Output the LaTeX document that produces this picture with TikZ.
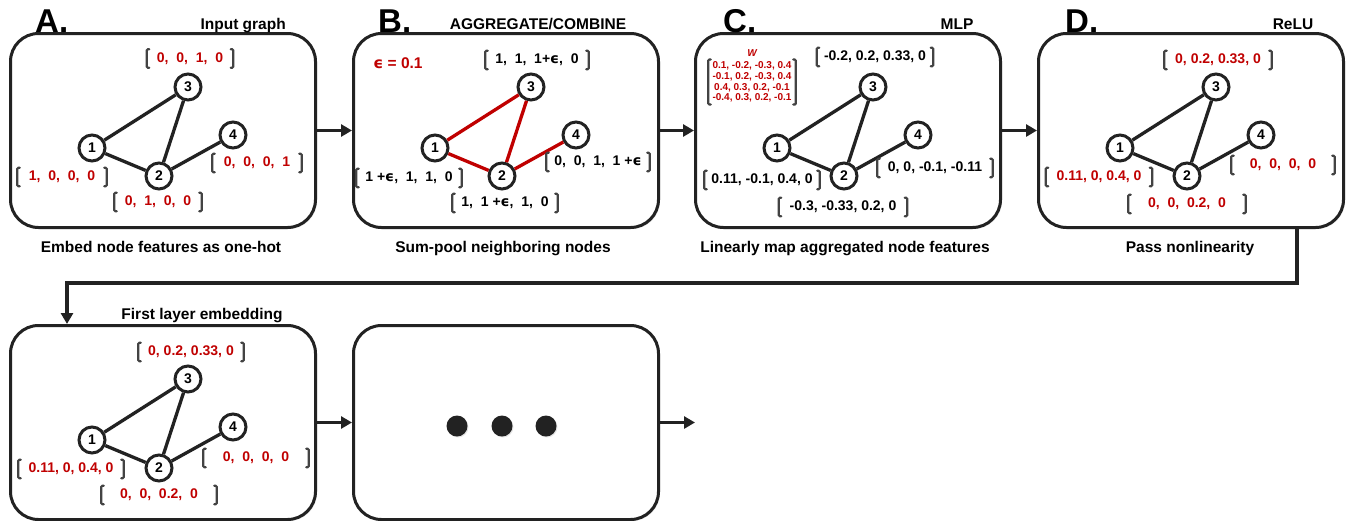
\documentclass[tikz,border=0pt]{standalone}
\usepackage{fontspec}
\setmainfont{Liberation Sans}
\newfontfamily\epsfont{DejaVu Sans}
\usetikzlibrary{arrows.meta,positioning,shadows}
\definecolor{hl}{RGB}{192,0,0}
\definecolor{ink}{RGB}{34,34,34}
\newcommand{\eps}{{\epsfont\bfseries ϵ}}

\tikzset{
  panel/.style={draw=ink, line width=3pt, rounded corners=28pt, fill=white,
    minimum width=305pt, minimum height=194pt,
    drop shadow={opacity=0.2, shadow xshift=1.5pt, shadow yshift=-1.5pt}},
  gnode/.style={circle, draw=ink, line width=3pt, fill=white, minimum size=26pt,
    inner sep=0pt, font=\fontsize{14}{14}\selectfont\bfseries},
  gedge/.style={draw=#1, line width=3.3pt},
  lbrk/.style={draw=ink!85, line width=2.2pt, line cap=round, rounded corners=1pt,
    to path={++(2.5pt,0) -- (\tikztostart) -- (\tikztotarget) -- ++(2.5pt,0)}},
  rbrk/.style={draw=ink!85, line width=2.2pt, line cap=round, rounded corners=1pt,
    to path={++(-2.5pt,0) -- (\tikztostart) -- (\tikztotarget) -- ++(-2.5pt,0)}},
  fv/.style 2 args={font=\fontsize{14}{16}\selectfont\bfseries, text=#1,
    minimum width=#2, minimum height=18pt, inner xsep=4pt, inner ysep=0pt,
    append after command={(\tikzlastnode.north west) edge[lbrk] (\tikzlastnode.south west)
      (\tikzlastnode.north east) edge[rbrk] (\tikzlastnode.south east)}},
  letter/.style={font=\fontsize{33}{33}\selectfont\bfseries, inner sep=0pt},
  head/.style={font=\fontsize{15.5}{16}\selectfont\bfseries, inner sep=0pt},
  flow/.style={draw=ink, line width=3.5pt, -{Triangle[length=11pt,width=12pt]}},
  dot/.style={circle, fill=ink, minimum size=21pt, inner sep=0pt,
    drop shadow={opacity=0.2, shadow xshift=1pt, shadow yshift=-1pt}},
}

\begin{document}
\begin{tikzpicture}[x=1pt, y=-1pt]
  \useasboundingbox (0,0) rectangle (1348,520);

  \foreach \p/\px/\py/\ec in {a/0/0/ink, b/343/0/hl, c/685/0/ink, d/1028/0/ink, e/0/292/ink}{
    \node[panel] at (\px+163,\py+130.5) (box\p) {};
    \node[gnode] at (\px+92,\py+148) (\p1) {1};
    \node[gnode] at (\px+159,\py+176) (\p2) {2};
    \node[gnode] at (\px+188,\py+87) (\p3) {3};
    \node[gnode] at (\px+233,\py+135) (\p4) {4};
    \draw[gedge=\ec] (\p1) -- (\p3) (\p1) -- (\p2) (\p2) -- (\p3) (\p2) -- (\p4);
  }
  \node[panel] at (343+163,292+130.5) (boxf) {};
  \node[dot] at (457,426) (dot1) {};
  \node[dot] at (502,426) (dot2) {};
  \node[dot] at (546,426) (dot3) {};

  % titles and captions
  \node[letter, anchor=base west] at (35,32) (leta) {A.};
  \node[letter, anchor=base west] at (378,32) (letb) {B.};
  \node[letter, anchor=base west] at (723,32) (letc) {C.};
  \node[letter, anchor=base west] at (1065,32) (letd) {D.};
  \node[head, anchor=base east] at (286,29) (tita) {Input graph};
  \node[head, anchor=base] at (538,29) (titb) {AGGREGATE/COMBINE};
  \node[head, anchor=base] at (957,29) (titc) {MLP};
  \node[head, anchor=base] at (1293,29) (titd) {ReLU};
  \node[head, anchor=base] at (202,319) (tite) {First layer embedding};
  \node[head, anchor=base] at (161,252) (capa) {Embed node features as one-hot};
  \node[head, anchor=base] at (503,252) (capb) {Sum-pool neighboring nodes};
  \node[head, anchor=base] at (845,252) (capc) {Linearly map aggregated node features};
  \node[head, anchor=base] at (1190,252) (capd) {Pass nonlinearity};

  % feature vectors
  \node[fv={hl}{86pt}] at (190,58.5) (a3v) {0,~ 0,~ 1,~ 0};
  \node[fv={hl}{89pt}] at (62,177) (a1v) {1,~ 0,~ 0,~ 0};
  \node[fv={hl}{89pt}] at (257,163) (a4v) {0,~ 0,~ 0,~ 1};
  \node[fv={hl}{87pt}] at (158,202) (a2v) {0,~ 1,~ 0,~ 0};

  \node[head, text=hl] at (398,63) (epsval) {\eps\ = 0.1};
  \node[fv={black}{103pt}] at (537,60) (b3v) {1,~ 1,~ 1+\eps,~ 0};
  \node[fv={black}{105pt}] at (409,178) (b1v) {1~+\eps,~ 1,~ 1,~ 0};
  \node[fv={black}{103pt}] at (598,162) (b4v) {0,~ 0,~ 1,~ 1~+\eps};
  \node[fv={black}{105pt}] at (505,203) (b2v) {1,~ 1~+\eps,~ 1,~ 0};

  \node[text=hl, font=\fontsize{10}{10}\selectfont\bfseries\itshape] at (752,53) (wlab) {W};
  \node[fv={hl}{86pt}, align=center, inner ysep=2pt,
    font=\fontsize{10}{10.7}\selectfont\bfseries] at (752,82) (wmat)
    {0.1, -0.2, -0.3, 0.4\\-0.1, 0.2, -0.3, 0.4\\0.4, 0.3, 0.2, -0.1\\-0.4, 0.3, 0.2, -0.1};
  \node[fv={black}{116pt}] at (875,57) (c3v) {-0.2, 0.2, 0.33, 0};
  \node[fv={black}{115pt}] at (762,180) (c1v) {0.11, -0.1, 0.4, 0};
  \node[fv={black}{115pt}] at (935,168) (c4v) {0, 0, -0.1, -0.11};
  \node[fv={black}{128pt}] at (843,207) (c2v) {-0.3, -0.33, 0.2, 0};

  \node[fv={hl}{107pt}] at (1218,60) (d3v) {0, 0.2, 0.33, 0};
  \node[fv={hl}{106pt}] at (1099,177) (d1v) {0.11, 0, 0.4, 0};
  \node[fv={hl}{103pt}] at (1283,165) (d4v) {0,~ 0,~ 0,~ 0};
  \node[fv={hl}{117pt}] at (1187,204) (d2v) {0,~ 0,~ 0.2,~ 0};

  \node[fv={hl}{105pt}] at (191,352) (e3v) {0, 0.2, 0.33, 0};
  \node[fv={hl}{105pt}] at (71,469) (e1v) {0.11, 0, 0.4, 0};
  \node[fv={hl}{105pt}] at (256,458) (e4v) {0,~ 0,~ 0,~ 0};
  \node[fv={hl}{115pt}] at (159,495) (e2v) {0,~ 0,~ 0.2,~ 0};

  % arrows between panels
  \draw[flow] (boxa.east) -- (boxb.west);
  \draw[flow] (boxb.east) -- (boxc.west);
  \draw[flow] (boxc.east) -- (boxd.west);
  \coordinate (dropx) at (1297,283);
  \coordinate (landx) at (67,283);
  \draw[flow] (boxd.south -| dropx) -- (dropx) -- (landx) -- (boxe.north -| landx);
  \draw[flow] (boxe.east) -- (boxf.west);
  \coordinate (outend) at (695,422.5);
  \draw[flow] (boxf.east) -- (outend);
\end{tikzpicture}
\end{document}
